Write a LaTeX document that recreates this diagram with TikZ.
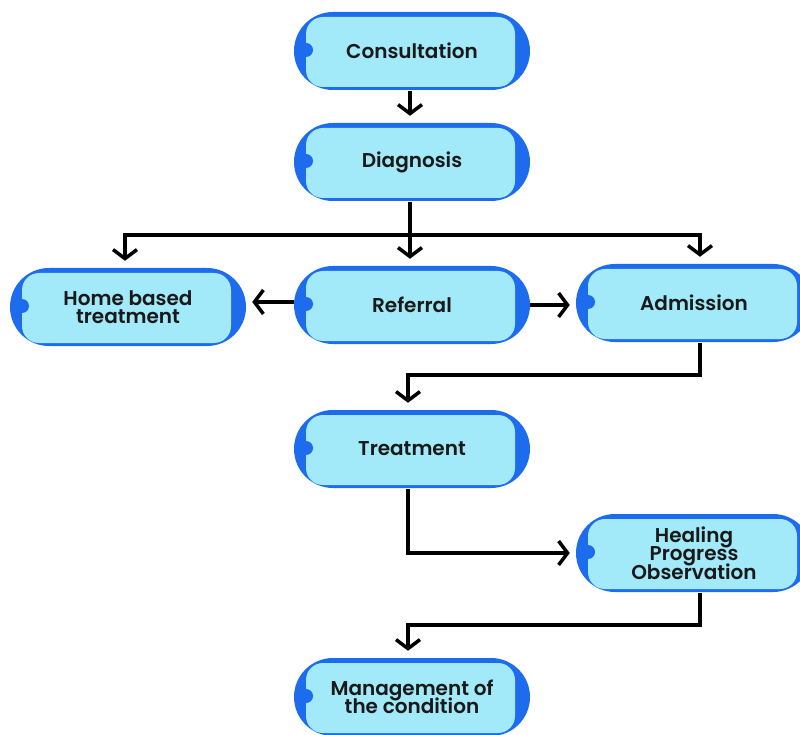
\documentclass[tikz,border=0pt]{standalone}
\usepackage{fontspec}
\setmainfont{Poppins}[BoldFont={Poppins SemiBold}]
\usetikzlibrary{arrows.meta}
\definecolor{bblue}{HTML}{1E6CEE}
\definecolor{lblue}{HTML}{A2E9F9}
\newcommand{\mybxfont}{\fontsize{20}{18.5}\selectfont\bfseries\lineskiplimit=-20pt\relax}
\tikzset{
  box/.style={minimum width=236pt, minimum height=80pt, inner sep=0pt,
    align=center, font=\mybxfont, text=black!90,
    path picture={
      \fill[bblue,rounded corners=39pt] ([yshift=1pt]path picture bounding box.south west) rectangle ([yshift=-1pt]path picture bounding box.north east);
      \fill[lblue,rounded corners=17pt] ([xshift=12pt,yshift=4pt]path picture bounding box.south west) rectangle ([xshift=-15pt,yshift=-6pt]path picture bounding box.north east);
      \fill[bblue] ([xshift=12pt,yshift=1pt]path picture bounding box.west) circle (7pt);
    }},
  conn/.style={line width=3.5pt, -{Straight Barb[length=9pt,width=24pt,line width=3.5pt]}, shorten >=6pt},
  plainline/.style={line width=3.5pt}
}
\begin{document}
\begin{tikzpicture}[x=1pt,y=-1pt]
\useasboundingbox (0,0) rectangle (800,735);
\node[box] (cons) at (412,51) {Consultation};
\node[box] (diag) at (412,162) {Diagnosis};
\node[box] (home) at (128,307) {Home based\\treatment};
\node[box] (refe) at (412,305) {Referral};
\node[box] (admi) at (694,303) {Admission};
\node[box] (trea) at (412,449) {Treatment};
\node[box] (heal) at (694,553) {Healing\\Progress\\Observation};
\node[box] (mana) at (412,697) {Management of\\the condition};

\coordinate (j1) at (410,235);
\coordinate (jl) at (125,235);
\coordinate (jr) at (700,235);
\coordinate (j2a) at (700,375);
\coordinate (j2b) at (408,375);
\coordinate (j3) at (408,553);
\coordinate (j4a) at (700,625);
\coordinate (j4b) at (408,625);

\draw[conn] (cons.south -| j1) -- (diag.north -| j1);
\draw[plainline] (diag.south -| j1) -- (j1);
\draw[plainline] ([xshift=-1.75pt]jl) -- ([xshift=1.75pt]jr);
\draw[conn] (jl) -- (jl |- home.north);
\draw[conn] (j1) -- (j1 |- refe.north);
\draw[conn] (jr) -- (jr |- admi.north);
\draw[conn] ([yshift=3pt]refe.west) -- ([yshift=3pt]refe.west -| home.east);
\draw[conn] (refe.east) -- (refe.east -| admi.west);
\draw[conn] (admi.south -| j2a) -- (j2a) -- (j2b) -- (j2b |- trea.north);
\draw[conn] (trea.south -| j3) -- (j3) -- (heal.west);
\draw[conn] (heal.south -| j4a) -- (j4a) -- (j4b) -- (j4b |- mana.north);
\end{tikzpicture}
\end{document}
